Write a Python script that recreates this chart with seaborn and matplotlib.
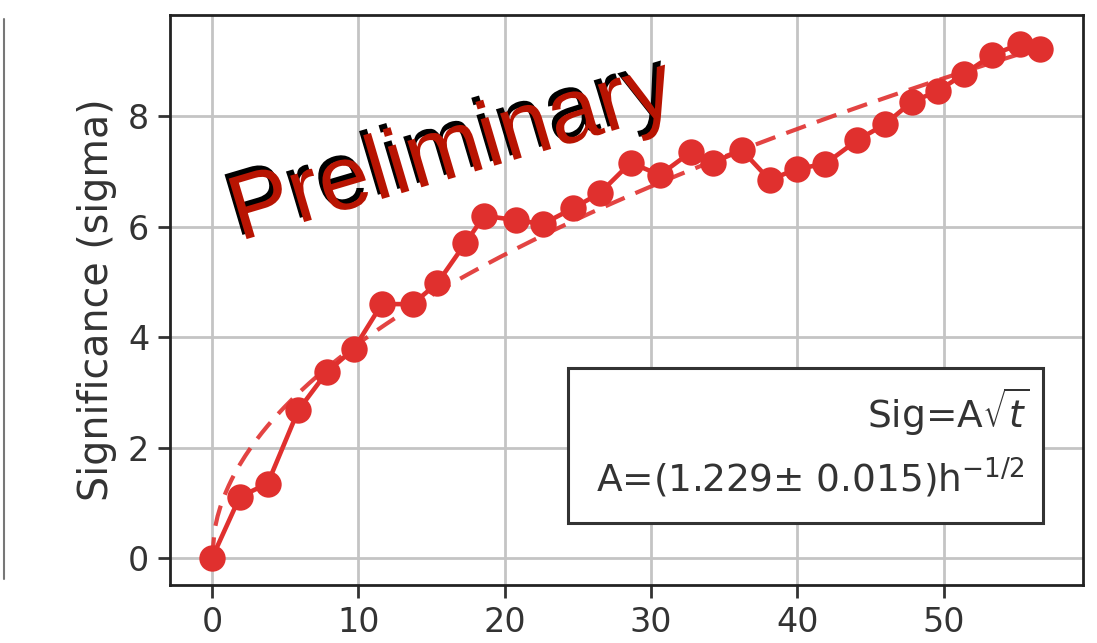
import numpy as np
import pandas as pd
import matplotlib
matplotlib.use("Agg")
import matplotlib.pyplot as plt
import matplotlib.patheffects as pe
from matplotlib.lines import Line2D
from matplotlib.patches import Rectangle
import seaborn as sns

# Observation time (hours) and accumulated significance (sigma)
time_h = [0.0, 1.9, 3.8, 5.9, 7.85, 9.7, 11.6, 13.7, 15.4, 17.3, 18.6, 20.8,
          22.6, 24.7, 26.5, 28.6, 30.6, 32.7, 34.2, 36.2, 38.1, 40.0, 41.9,
          44.1, 46.0, 47.8, 49.6, 51.4, 53.3, 55.2, 56.6]
significance = [0.0, 1.11, 1.35, 2.68, 3.37, 3.79, 4.6, 4.6, 4.98, 5.7, 6.2, 6.12,
                6.05, 6.34, 6.61, 7.16, 6.94, 7.35, 7.16, 7.39, 6.85, 7.05, 7.14,
                7.57, 7.86, 8.26, 8.46, 8.77, 9.11, 9.31, 9.22]

# Fit parameters: Sig = A * sqrt(t)
fit_A = 1.229
fit_A_err = 0.015
x_ticks = [0, 10, 20, 30, 40, 50]
y_ticks = [0, 2, 4, 6, 8]

red = "#e0302e"

sns.set_style("whitegrid")
plt.rcParams["font.family"] = ["DejaVu Sans"]

fig = plt.figure(figsize=(10.97, 6.43), dpi=100)
ax = fig.add_axes([0.155, 0.090, 0.832, 0.887])

df = pd.DataFrame({"t": time_h, "sig": significance})
t_fit = np.linspace(0, max(time_h), 300)
df_fit = pd.DataFrame({"t": t_fit, "sig": fit_A * np.sqrt(t_fit)})

sns.lineplot(data=df_fit, x="t", y="sig", ax=ax, color=red, lw=3,
             linestyle=(0, (5, 2.8)), alpha=0.9)
sns.lineplot(data=df, x="t", y="sig", ax=ax, color=red, lw=3.3, marker="o",
             markersize=19, markeredgewidth=0, markerfacecolor=red)

ax.set_xlim(-2.87, 59.5)
ax.set_ylim(-0.49, 9.84)
ax.set_xticks(x_ticks)
ax.set_yticks(y_ticks)
ax.set_xlabel("")
ax.set_ylabel("Significance (sigma)", fontsize=28.5, color="#333333", labelpad=8)
ax.tick_params(axis="both", labelsize=24, colors="#333333", length=9, width=2,
               direction="out", left=True, bottom=True, pad=6)

ax.grid(True, color="#c4c4c4", lw=2)
for sp in ax.spines.values():
    sp.set_visible(True)
    sp.set_color("#222222")
    sp.set_linewidth(2)

# Fit result box
ax.add_patch(Rectangle((0.436, 0.109), 0.520, 0.272, transform=ax.transAxes,
                       fc="white", ec="#333333", lw=2.2, zorder=5))
fit_line1 = "Sig=A$\\sqrt{t}$"
fit_line2 = f"A=({fit_A:.3f}$\\pm$ {fit_A_err:.3f})h$^{{-1/2}}$"
ax.text(0.942, 0.275, fit_line1, transform=ax.transAxes, ha="right",
        va="baseline", fontsize=27, color="#333333", zorder=6)
ax.text(0.936, 0.163, fit_line2, transform=ax.transAxes, ha="right",
        va="baseline", fontsize=27, color="#333333", zorder=6)

# Watermark
ax.text(0.076, 0.603, "Preliminary", transform=ax.transAxes, rotation=16.5,
        fontsize=66, family="Liberation Sans", color="#b81402",
        ha="left", va="baseline", rotation_mode="anchor", zorder=7,
        path_effects=[pe.SimplePatchShadow(offset=(-3, 3), shadow_rgbFace="black", alpha=1.0),
                      pe.Normal()])

# Edge of neighbouring panel
fig.add_artist(Line2D([0.004, 0.004], [0.1, 0.97], transform=fig.transFigure,
                      color="#777777", lw=1.5))

fig.savefig("out.png", dpi=100, facecolor="white")
